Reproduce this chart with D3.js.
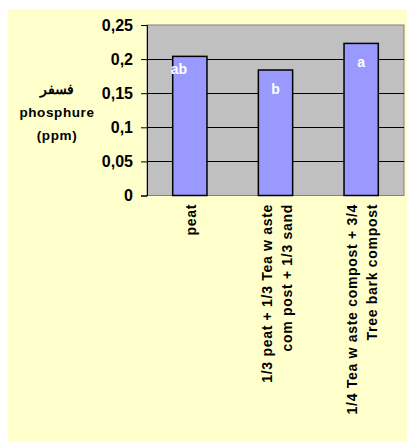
<!DOCTYPE html>
<html>
<head>
<meta charset="utf-8">
<script src="https://cdn.jsdelivr.net/npm/d3@7"></script>
<style>
  body { margin: 0; background: #fff; }
  svg { display: block; font-family: Arial, "Liberation Sans", sans-serif; }
</style>
</head>
<body>
<svg id="chart" width="407" height="441"></svg>
<script>
// chart data
const categories = [
    ["peat"],
    ["1/3 peat + 1/3 Tea w aste", "com post + 1/3 sand"],
    ["1/4 Tea w aste compost + 3/4", "Tree bark compost"]
];
const values = [0.204, 0.184, 0.223];
const letters = ["ab", "b", "a"];
const yTicks = [0, 0.05, 0.1, 0.15, 0.2, 0.25];
const yTickLabels = ["0", "0,05", "0,1", "0,15", "0,2", "0,25"];
const yTitle = ["فسفر", "phosphure", "(ppm)"];

const svg = d3.select("#chart");

// chart background
svg.append("rect")
    .attr("x", 8).attr("y", 9)
    .attr("width", 399).attr("height", 432)
    .attr("fill", "#ffffcc");

// plot area
const plot = { left: 147, top: 25, right: 404, bottom: 195.5 };

const x = d3.scaleBand()
    .domain(d3.range(values.length))
    .range([plot.left, plot.right])
    .paddingInner(0.6)
    .paddingOuter(0.3);

const y = d3.scaleLinear()
    .domain([0, 0.25])
    .range([plot.bottom, plot.top]);

svg.append("rect")
    .attr("x", plot.left).attr("y", plot.top)
    .attr("width", plot.right - plot.left)
    .attr("height", plot.bottom - plot.top)
    .attr("fill", "#c0c0c0")
    .attr("stroke", "#808080");

// gridlines
svg.append("g")
    .selectAll("line")
    .data(yTicks.filter(d => d > 0 && d < 0.25))
    .enter().append("line")
    .attr("x1", plot.left).attr("x2", plot.right)
    .attr("y1", d => Math.round(y(d)) + 0.5)
    .attr("y2", d => Math.round(y(d)) + 0.5)
    .attr("stroke", "#000");

// y axis
const yAxis = svg.append("g")
    .attr("transform", `translate(${plot.left},0)`)
    .call(d3.axisLeft(y)
        .tickValues(yTicks)
        .tickFormat((d, i) => yTickLabels[i])
        .tickSize(6)
        .tickPadding(8));
yAxis.select(".domain").attr("stroke", "#000");
yAxis.selectAll(".tick line").attr("stroke", "#000");
yAxis.selectAll(".tick text")
    .attr("font-size", 16)
    .attr("font-weight", "bold")
    .attr("font-family", "Arial, 'Liberation Sans', sans-serif")
    .attr("fill", "#000");

// bars
svg.selectAll(".bar")
    .data(values)
    .enter().append("rect")
    .attr("class", "bar")
    .attr("x", (d, i) => x(i))
    .attr("y", d => y(d))
    .attr("width", x.bandwidth())
    .attr("height", d => plot.bottom - y(d))
    .attr("fill", "#9999ff")
    .attr("stroke", "#000")
    .attr("stroke-width", 1.5);

// significance letters
const letterOffsets = [[-11, 18], [0, 24], [0, 24]];
svg.selectAll(".letter")
    .data(letters)
    .enter().append("text")
    .attr("class", "letter")
    .attr("x", (d, i) => x(i) + x.bandwidth() / 2 + letterOffsets[i][0])
    .attr("y", (d, i) => y(values[i]) + letterOffsets[i][1])
    .attr("text-anchor", "middle")
    .attr("font-size", 14)
    .attr("font-weight", "bold")
    .attr("fill", "#fff")
    .text(d => d);

// category labels, rotated
categories.forEach((lines, i) => {
    const cx = x(i) + x.bandwidth() / 2;
    const n = lines.length;
    lines.forEach((line, j) => {
        const lx = cx + (j - (n - 1) / 2) * 20 + 6;
        svg.append("text")
            .attr("transform", `translate(${lx},204) rotate(-90)`)
            .attr("text-anchor", "end")
            .attr("font-size", 14)
            .attr("letter-spacing", 0.7)
            .attr("font-weight", "bold")
            .attr("fill", "#000")
            .text(line);
    });
});

// y axis title
svg.append("g")
    .selectAll("text")
    .data(yTitle)
    .enter().append("text")
    .attr("x", 57)
    .attr("y", (d, i) => 94 + i * 23)
    .attr("text-anchor", "middle")
    .attr("font-size", 13.5)
    .attr("letter-spacing", 0.6)
    .attr("font-weight", "bold")
    .attr("fill", "#000")
    .text(d => d);
</script>
</body>
</html>
